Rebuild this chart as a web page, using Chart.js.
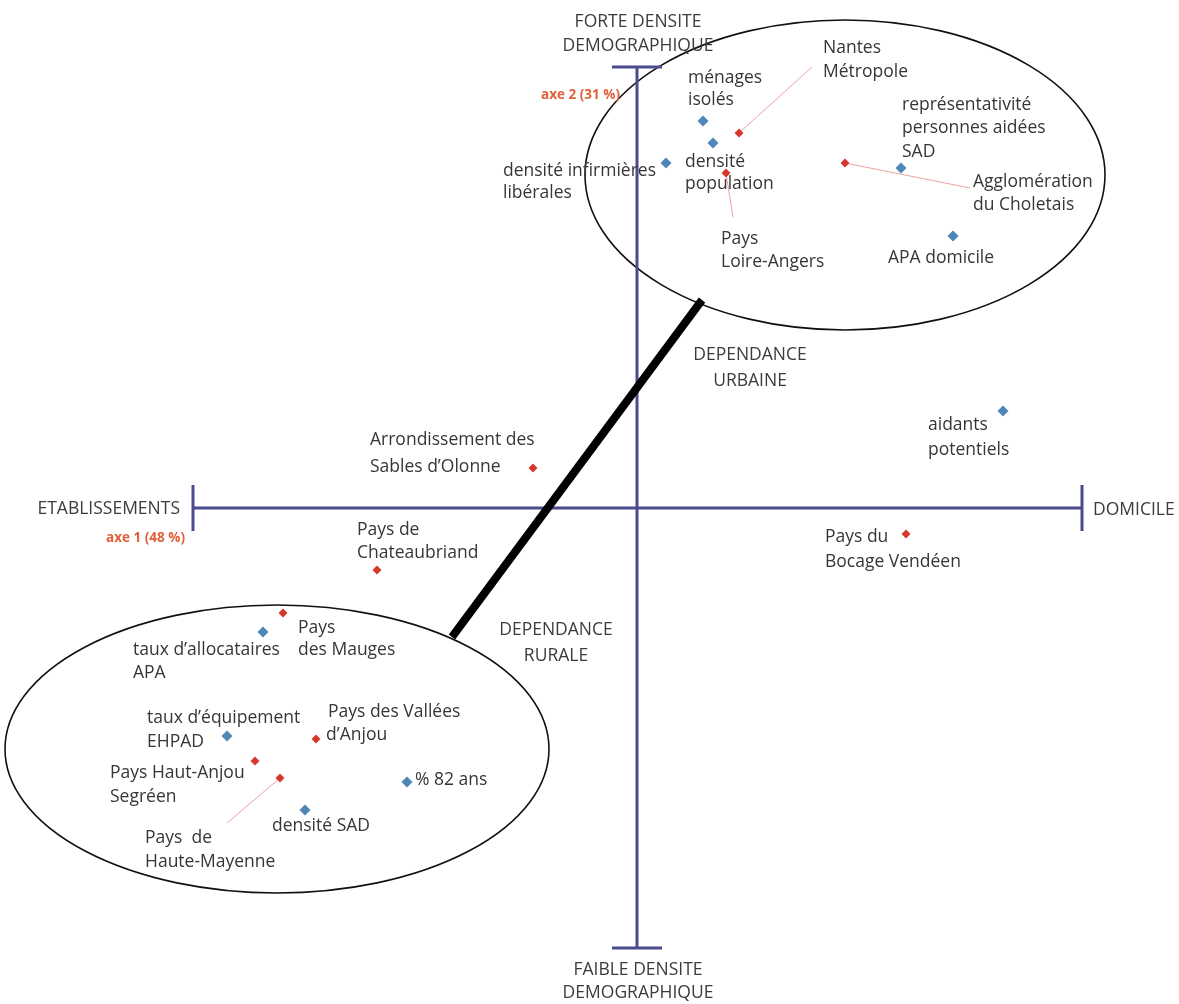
<!DOCTYPE html>
<html><head><meta charset="utf-8">
<script src="https://cdn.jsdelivr.net/npm/chart.js@4/dist/chart.umd.min.js"></script>
<style>html,body{margin:0;padding:0;background:#fff;}canvas{display:block;}</style>
</head><body>
<canvas id="c" width="1179" height="1004"></canvas>
<script>
// ---- Data (factor-map coordinates; axe 1 horizontal, axe 2 vertical) ----
const varNames = ['ménages isolés','densité population','densité infirmières libérales','représentativité personnes aidées SAD','APA domicile','aidants potentiels','taux d’allocataires APA','taux d’équipement EHPAD','% 82 ans','densité SAD'];
const varAxe1  = [0.66, 0.76, 0.29, 2.64, 3.16, 3.66, -3.74, -4.10, -2.30, -3.32];
const varAxe2  = [3.87, 3.65, 3.45, 3.40, 2.72, 0.97, -1.24, -2.28, -2.74, -3.02];

const terrNames = ['Nantes Métropole','Pays Loire-Angers','Agglomération du Choletais','Arrondissement des Sables d’Olonne','Pays de Chateaubriand','Pays du Bocage Vendéen','Pays des Mauges','Pays des Vallées d’Anjou','Pays Haut-Anjou Segréen','Pays de Haute-Mayenne'];
const terrAxe1 = [1.02, 0.89, 2.08, -1.04, -2.60, 2.69, -3.54, -3.21, -3.82, -3.57];
const terrAxe2 = [3.75, 3.35, 3.45, 0.40, -0.62, -0.26, -1.05, -2.31, -2.53, -2.70];

// axis extents of the drawn factor axes
const axe1Range = [-4.44, 4.45];
const axe2Range = [-4.40, 4.41];
const capHalf = [0.23, 0.25];

// leader lines: [x1,y1,x2,y2]
const leaders = [
  [1.02, 3.75, 1.75, 4.41],
  [0.89, 3.35, 0.96, 2.91],
  [2.08, 3.45, 3.33, 3.20],
  [-3.57, -2.70, -4.10, -3.15]
];
// link between clusters
const linkLine = [0.65, 2.08, -1.85, -1.29];
// cluster ellipses: [cx, cy, rx, ry]
const ellipses = [
  [2.08, 3.33, 2.60, 1.55],
  [-3.60, -2.41, 2.72, 1.44]
];

// text annotations: [text, x, y, align, kind]
const texts = [
  ['ménages',0.51,4.30,'left','l'],['isolés',0.51,4.08,'left','l'],
  ['Nantes',1.86,4.60,'left','l'],['Métropole',1.86,4.36,'left','l'],
  ['représentativité',2.65,4.03,'left','l'],['personnes aidées',2.65,3.80,'left','l'],['SAD',2.65,3.56,'left','l'],
  ['densité',0.48,3.46,'left','l'],['population',0.48,3.24,'left','l'],
  ['Agglomération',3.36,3.26,'left','l'],['du Choletais',3.36,3.03,'left','l'],
  ['Pays',0.84,2.69,'left','l'],['Loire-Angers',0.84,2.46,'left','l'],
  ['APA domicile',2.51,2.50,'left','l'],
  ['densité infirmières',-1.34,3.37,'left','l'],['libérales',-1.34,3.15,'left','l'],
  ['aidants',2.91,0.83,'left','l'],['potentiels',2.91,0.58,'left','l'],
  ['Pays du',1.88,-0.29,'left','l'],['Bocage Vendéen',1.88,-0.54,'left','l'],
  ['Arrondissement des',-2.67,0.68,'left','l'],['Sables d’Olonne',-2.67,0.41,'left','l'],
  ['Pays de',-2.80,-0.22,'left','l'],['Chateaubriand',-2.80,-0.45,'left','l'],
  ['Pays',-3.39,-1.20,'left','l'],['des Mauges',-3.39,-1.42,'left','l'],
  ['taux d’allocataires',-5.04,-1.42,'left','l'],['APA',-5.04,-1.65,'left','l'],
  ['taux d’équipement',-4.90,-2.10,'left','l'],['EHPAD',-4.90,-2.34,'left','l'],
  ['Pays des Vallées',-3.09,-2.04,'left','l'],['d’Anjou',-3.11,-2.27,'left','l'],
  ['Pays Haut-Anjou',-5.27,-2.65,'left','l'],['Segréen',-5.27,-2.89,'left','l'],
  ['% 82 ans',-2.22,-2.72,'left','l'],
  ['densité SAD',-3.65,-3.18,'left','l'],
  ['Pays  de',-4.92,-3.30,'left','l'],['Haute-Mayenne',-4.92,-3.54,'left','l'],
  ['FORTE DENSITE',0.01,4.86,'center','t'],['DEMOGRAPHIQUE',0.01,4.62,'center','t'],
  ['FAIBLE DENSITE',0.01,-4.62,'center','t'],['DEMOGRAPHIQUE',0.01,-4.85,'center','t'],
  ['ETABLISSEMENTS',-4.57,-0.01,'right','t'],['DOMICILE',4.56,-0.02,'left','t'],
  ['DEPENDANCE',1.13,1.53,'center','t'],['URBAINE',1.13,1.27,'center','t'],
  ['DEPENDANCE',-0.81,-1.22,'center','t'],['RURALE',-0.81,-1.48,'center','t'],
  ['axe 2 (31 %)',-0.17,4.13,'right','a'],['axe 1 (48 %)',-4.52,-0.30,'right','a']
];

const AXIS_COLOR = '#4b4b90';
const BLUE = '#4f86b8';
const RED = '#d4392b';

function seg(x1,y1,x2,y2,color,width,order){
  return {type:'scatter', data:[{x:x1,y:y1},{x:x2,y:y2}], showLine:true, borderColor:color, borderWidth:width,
    pointRadius:0, pointHoverRadius:0, fill:false, order:order, borderCapStyle:'butt'};
}

const datasets = [];
// factor axes and caps
datasets.push(seg(axe1Range[0],0,axe1Range[1],0,AXIS_COLOR,3,5));
datasets.push(seg(0,axe2Range[0],0,axe2Range[1],AXIS_COLOR,3,5));
datasets.push(seg(axe1Range[0],-capHalf[0],axe1Range[0],capHalf[0],AXIS_COLOR,3,5));
datasets.push(seg(axe1Range[1],-capHalf[0],axe1Range[1],capHalf[0],AXIS_COLOR,3,5));
datasets.push(seg(-capHalf[1],axe2Range[1],capHalf[1],axe2Range[1],AXIS_COLOR,3,5));
datasets.push(seg(-capHalf[1],axe2Range[0],capHalf[1],axe2Range[0],AXIS_COLOR,3,5));
leaders.forEach(l=>datasets.push(seg(l[0],l[1],l[2],l[3],'#eba3a0',1,4)));
datasets.push(seg(linkLine[0],linkLine[1],linkLine[2],linkLine[3],'#000000',8,3));
datasets.push({type:'scatter', label:'variables', data:varAxe1.map((x,i)=>({x:x,y:varAxe2[i]})),
  pointStyle:'rectRot', pointRadius:5.5, backgroundColor:BLUE, borderColor:BLUE, borderWidth:0, order:1});
datasets.push({type:'scatter', label:'territoires', data:terrAxe1.map((x,i)=>({x:x,y:terrAxe2[i]})),
  pointStyle:'rectRot', pointRadius:4.5, backgroundColor:RED, borderColor:RED, borderWidth:0, order:1});

const ellipsePlugin = {
  id:'ellipses',
  beforeDatasetsDraw(chart){
    const ctx = chart.ctx, xs = chart.scales.x, ys = chart.scales.y;
    ctx.save();
    ctx.strokeStyle = '#111'; ctx.lineWidth = 1.6;
    ellipses.forEach(e=>{
      const cx = xs.getPixelForValue(e[0]), cy = ys.getPixelForValue(e[1]);
      const rx = Math.abs(xs.getPixelForValue(e[0]+e[2]) - cx);
      const ry = Math.abs(ys.getPixelForValue(e[1]+e[3]) - cy);
      ctx.beginPath(); ctx.ellipse(cx,cy,rx,ry,0,0,Math.PI*2); ctx.stroke();
    });
    ctx.restore();
  }
};
const textPlugin = {
  id:'texts',
  afterDatasetsDraw(chart){
    const ctx = chart.ctx, xs = chart.scales.x, ys = chart.scales.y;
    ctx.save();
    ctx.textBaseline = 'middle';
    texts.forEach(t=>{
      if (t[4]==='a'){ ctx.font = 'bold 13.5px "Open Sans"'; ctx.fillStyle = '#e0603a'; }
      else if (t[4]==='t'){ ctx.font = '17.5px "Open Sans"'; ctx.fillStyle = '#3c3c3c'; }
      else { ctx.font = '17.5px "Open Sans"'; ctx.fillStyle = '#363636'; }
      ctx.textAlign = t[3];
      ctx.fillText(t[0], xs.getPixelForValue(t[1]), ys.getPixelForValue(t[2]));
    });
    ctx.restore();
  }
};

new Chart(document.getElementById('c'), {
  type:'scatter',
  data:{datasets:datasets},
  options:{
    responsive:false, animation:false,
    layout:{padding:0, autoPadding:false},
    plugins:{legend:{display:false}, tooltip:{enabled:false}},
    scales:{
      x:{type:'linear', min:-6.37, max:5.42, display:false},
      y:{type:'linear', min:-4.96, max:5.08, display:false}
    }
  },
  plugins:[ellipsePlugin, textPlugin]
});
</script>
</body></html>
